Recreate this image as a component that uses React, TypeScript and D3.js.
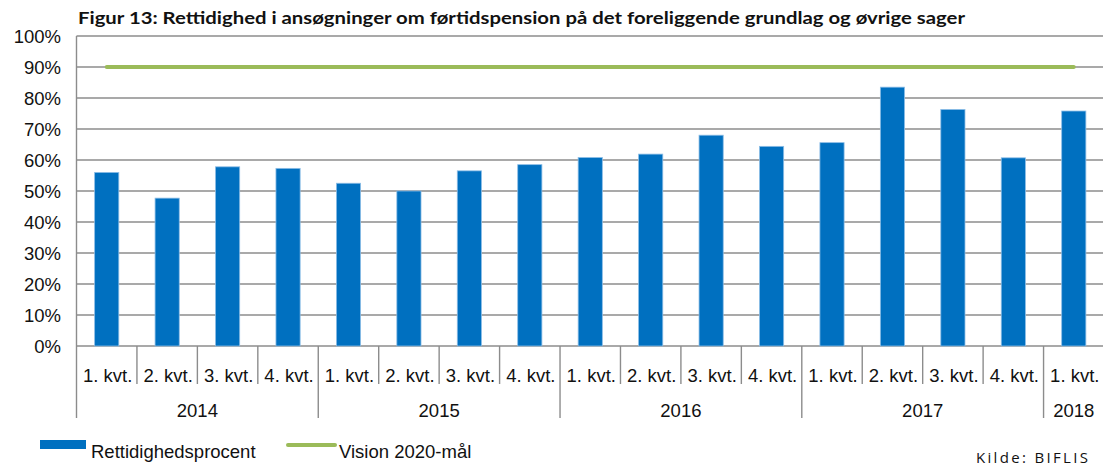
import React from "react";
import * as d3 from "d3";

const quarters = ["1. kvt.", "2. kvt.", "3. kvt.", "4. kvt.", "1. kvt.", "2. kvt.", "3. kvt.", "4. kvt.", "1. kvt.", "2. kvt.", "3. kvt.", "4. kvt.", "1. kvt.", "2. kvt.", "3. kvt.", "4. kvt.", "1. kvt."];
const years = ["2014", "2014", "2014", "2014", "2015", "2015", "2015", "2015", "2016", "2016", "2016", "2016", "2017", "2017", "2017", "2017", "2018"];
const rettidighed = [56.0, 47.7, 57.8, 57.3, 52.5, 50.0, 56.5, 58.5, 60.8, 61.9, 68.0, 64.4, 65.6, 83.5, 76.3, 60.7, 75.8];
const vision = [90, 90, 90, 90, 90, 90, 90, 90, 90, 90, 90, 90, 90, 90, 90, 90, 90];
const yTicks = [0, 10, 20, 30, 40, 50, 60, 70, 80, 90, 100];
const title = "Figur 13: Rettidighed i ansøgninger om førtidspension på det foreliggende grundlag og øvrige sager";
const seriesNames = ["Rettidighedsprocent", "Vision 2020-mål"];
const source = "Kilde: BIFLIS";

const W = 1103;
const H = 465;
const left = 76.5;
const right = 1104;
const top = 36;
const bottom = 346;

export default function App() {
  const idx = quarters.map((_, i) => String(i));
  const x = d3.scaleBand<string>().domain(idx).range([left, right]).paddingInner(0.6).paddingOuter(0.3);
  const xs = d3.scaleBand<string>().domain(idx).range([left, right]).padding(0);
  const y = d3.scaleLinear().domain([0, 100]).range([bottom, top]);
  const line = d3
    .line<number>()
    .x((_, i) => (xs(String(i)) as number) + xs.bandwidth() / 2)
    .y((d) => y(d));

  const groups: { year: string; start: number; end: number }[] = [];
  years.forEach((yr, i) => {
    const g = groups[groups.length - 1];
    if (g && g.year === yr) g.end = i;
    else groups.push({ year: yr, start: i, end: i });
  });
  const bw = xs.bandwidth();
  const font = "'Liberation Sans', Arial, sans-serif";
  const fs = 18.5;
  const grid = "#8c8c8c";

  return (
    <div style={{ position: "absolute", left: 0, top: 0 }}>
      <svg width={W} height={H} style={{ display: "block" }}>
        <rect width={W} height={H} fill="#fff" />
        <text x={78} y={24} fontFamily="Lato, 'Open Sans', sans-serif" fontWeight={700} fontSize={17.5} textLength={887} lengthAdjust="spacingAndGlyphs" fill="#111">
          {title}
        </text>
        {yTicks.map((t) => (
          <g key={t}>
            <line x1={left} x2={W} y1={y(t)} y2={y(t)} stroke={grid} strokeWidth={1.4} />
            <text x={61} y={y(t) + 6.5} textAnchor="end" fontFamily={font} fontSize={fs} fill="#111">
              {t}%
            </text>
          </g>
        ))}
        <line x1={left} x2={left} y1={top} y2={bottom} stroke={grid} strokeWidth={1.4} />
        {rettidighed.map((v, i) => (
          <rect
            key={i}
            x={x(String(i))}
            y={y(v)}
            width={x.bandwidth()}
            height={y(0) - y(v)}
            fill="#0070C0"
            stroke="#8cbde6"
            strokeWidth={0.8}
          />
        ))}
        <path d={line(vision) || ""} fill="none" stroke="#9BBB59" strokeWidth={4} strokeLinecap="round" />
        {quarters.map((q, i) => {
          const x0 = xs(String(i)) as number;
          return (
            <g key={i}>
              <line x1={x0} x2={x0} y1={bottom} y2={groups.some((g) => g.start === i) ? 418 : 384} stroke={grid} strokeWidth={1.4} />
              <text x={x0 + bw / 2 + 1} y={381.5} textAnchor="middle" fontFamily={font} fontSize={fs} fill="#111">
                {q}
              </text>
            </g>
          );
        })}
        <line x1={right} x2={right} y1={bottom} y2={418} stroke={grid} strokeWidth={1.4} />
        {groups.map((g) => {
          const a = xs(String(g.start)) as number;
          const b = (xs(String(g.end)) as number) + bw;
          return (
            <text key={g.year} x={(a + b) / 2} y={416.5} textAnchor="middle" fontFamily={font} fontSize={fs} fill="#111">
              {g.year}
            </text>
          );
        })}
        <rect x={40} y={440} width={46} height={9} fill="#0070C0" />
        <text x={91} y={457.5} fontFamily={font} fontSize={fs} fill="#111">
          {seriesNames[0]}
        </text>
        <line x1={288} x2={335} y1={445} y2={445} stroke="#9BBB59" strokeWidth={4} strokeLinecap="round" />
        <text x={339} y={457.5} fontFamily={font} fontSize={fs} fill="#111">
          {seriesNames[1]}
        </text>
        <text x={976} y={462.5} fontFamily="'Open Sans', 'DejaVu Sans', sans-serif" fontSize={15} fill="#111" textLength={112} lengthAdjust="spacing">
          {source}
        </text>
      </svg>
    </div>
  );
}
